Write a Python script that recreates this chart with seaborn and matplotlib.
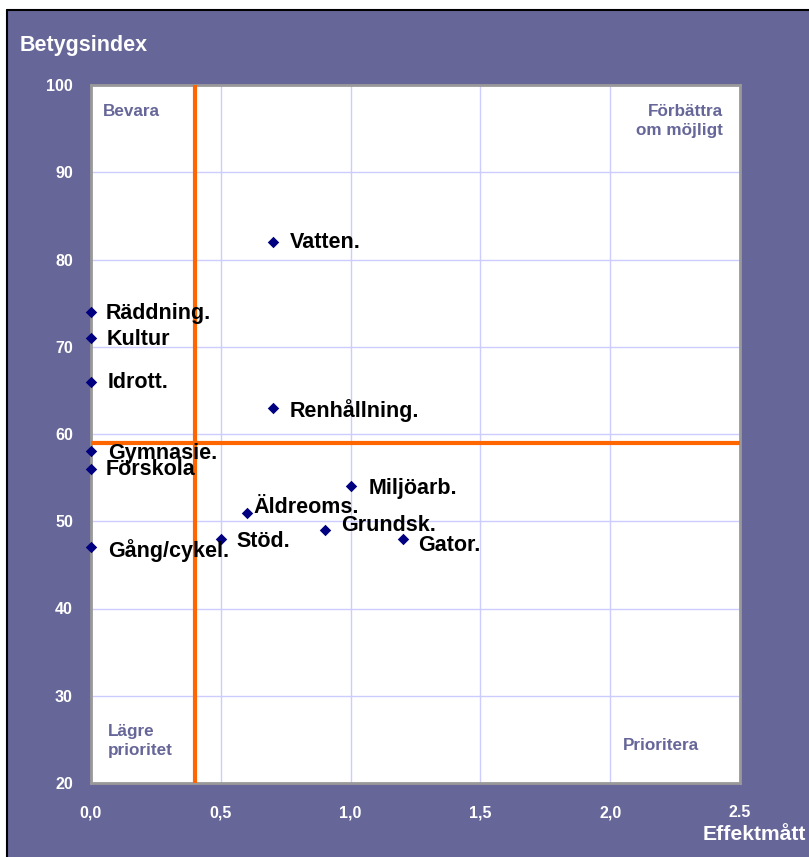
import matplotlib
matplotlib.use("Agg")
import matplotlib.pyplot as plt
import seaborn as sns
import pandas as pd
from matplotlib.patches import Rectangle

# ---- data ----
areas = ["Vatten.", "Räddning.", "Kultur", "Idrott.", "Renhållning.", "Gymnasie.",
         "Förskola", "Miljöarb.", "Äldreoms.", "Grundsk.", "Stöd.", "Gator.", "Gång/cykel."]
effekt = [0.7, 0.0, 0.0, 0.0, 0.7, 0.0, 0.0, 1.0, 0.6, 0.9, 0.5, 1.2, 0.0]
betyg = [82, 74, 71, 66, 63, 58, 56, 54, 51, 49, 48, 48, 47]
x_ticks = [0.0, 0.5, 1.0, 1.5, 2.0, 2.5]
x_ticklabels = ["0,0", "0,5", "1,0", "1,5", "2,0", "2.5"]
y_ticks = [20, 30, 40, 50, 60, 70, 80, 90, 100]
x_limit = 0.4
y_limit = 59
quadrants = ["Bevara", "Förbättra\nom möjligt", "Lägre\nprioritet", "Prioritera"]
x_title = "Effektmått"
y_title = "Betygsindex"

# label offsets in pixels (dx, dy up)
label_offsets = {
    "Vatten.": (17, 0), "Räddning.": (15, -2), "Kultur": (16, -1), "Idrott.": (17, -1),
    "Renhållning.": (17, -3), "Gymnasie.": (17, -2), "Förskola": (15, -1),
    "Miljöarb.": (18, -2), "Äldreoms.": (7, 5), "Grundsk.": (16, 4),
    "Stöd.": (16, -3), "Gator.": (16, -7), "Gång/cykel.": (17, -3),
}

df = pd.DataFrame({"Område": areas, "Effekt": effekt, "Betyg": betyg})

sns.set_theme(style="white")
plt.rcParams["font.family"] = ["Liberation Sans", "DejaVu Sans"]
plt.rcParams["font.weight"] = "bold"

PURPLE = "#666699"
W, H = 809, 857
fig = plt.figure(figsize=(W / 100, H / 100), dpi=100, facecolor="white")
# purple background panel with black top/left border
fig.patches.append(Rectangle((7 / W, 0), 1, 1 - 10 / H, transform=fig.transFigure,
                             facecolor=PURPLE, edgecolor="none", zorder=-10))
fig.lines.append(plt.Line2D([7 / W, 1], [1 - 10 / H, 1 - 10 / H], transform=fig.transFigure,
                            color="black", lw=1.5, zorder=-9))
fig.lines.append(plt.Line2D([7 / W, 7 / W], [0, 1 - 10 / H], transform=fig.transFigure,
                            color="black", lw=1.5, zorder=-9))

ax = fig.add_axes([91 / W, 1 - 783 / H, (740 - 91) / W, (783 - 85) / H])
ax.set_zorder(1)
ax.set_facecolor("white")

sns.scatterplot(data=df, x="Effekt", y="Betyg", marker="D", s=34, color="#000080",
                edgecolor="#000080", linewidth=0, ax=ax, zorder=5, clip_on=False)

ax.set_xlim(0, 2.5)
ax.set_ylim(20, 100)
ax.set_xticks(x_ticks)
ax.set_xticklabels(x_ticklabels)
ax.set_yticks(y_ticks)
ax.grid(True, color="#ccccff", lw=1)
ax.set_axisbelow(True)
ax.tick_params(axis="both", direction="in", length=5, color="#888888", width=1,
               labelcolor="white", labelsize=11.5)
ax.tick_params(axis="y", pad=13)
ax.tick_params(axis="x", pad=16)
for lab in ax.get_xticklabels() + ax.get_yticklabels():
    lab.set_fontweight("bold")
for s in ax.spines.values():
    s.set_color("#999999")
    s.set_linewidth(2)
ax.set_xlabel("")
ax.set_ylabel("")

ax.axvline(x_limit, color="#ff6600", lw=3, zorder=4)
ax.axhline(y_limit, color="#ff6600", lw=3, zorder=4)

for name, xv, yv in zip(areas, effekt, betyg):
    dx, dy = label_offsets[name]
    ax.annotate(name, (xv, yv), xytext=(dx * 0.72, dy * 0.72), textcoords="offset points",
                ha="left", va="center", fontsize=15.5, fontweight="bold", color="black", zorder=6)

qcol = PURPLE
ax.text(103 / W, 1 - 111 / H, quadrants[0], transform=fig.transFigure, ha="left", va="center",
        fontsize=12.3, fontweight="bold", color=qcol)
ax.text(723 / W, 1 - 121 / H, quadrants[1], transform=fig.transFigure, ha="right", va="center",
        fontsize=12.3, fontweight="bold", color=qcol, linespacing=1.35)
ax.text(108 / W, 1 - 741 / H, quadrants[2], transform=fig.transFigure, ha="left", va="center",
        fontsize=12.3, fontweight="bold", color=qcol, linespacing=1.35)
ax.text(623 / W, 1 - 745 / H, quadrants[3], transform=fig.transFigure, ha="left", va="center",
        fontsize=12.3, fontweight="bold", color=qcol)

fig.text(20 / W, 1 - 46 / H, y_title, ha="left", va="center", fontsize=15.5,
         fontweight="bold", color="white")
fig.text(806 / W, 1 - 834 / H, x_title, ha="right", va="center", fontsize=15.2,
         fontweight="bold", color="white")

fig.savefig("out.png", dpi=100, facecolor="white")
